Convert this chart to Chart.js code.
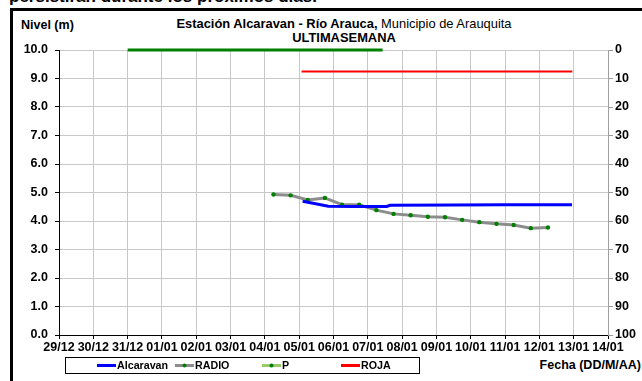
<!DOCTYPE html>
<html>
<head>
<meta charset="utf-8">
<script src="https://cdn.jsdelivr.net/npm/chart.js@4/dist/chart.umd.min.js"></script>
<style>
  html,body{margin:0;padding:0;background:#fff;}
  body{width:642px;height:381px;overflow:hidden;position:relative;font-family:'Liberation Sans',Arial,sans-serif;color:#000;}
  #topText{position:absolute;left:9px;top:-12px;font:bold 17px/17px 'Liberation Sans',Arial,sans-serif;white-space:nowrap;}
  #frame{position:absolute;left:10px;top:8px;width:720px;height:420px;border-left:3px solid #000;border-top:3px solid #000;background:transparent;}
  #nivel{position:absolute;left:21px;top:18px;font:bold 12.5px 'Liberation Sans',Arial,sans-serif;white-space:nowrap;}
  #title{position:absolute;left:0;width:688px;top:17px;text-align:center;font:12.9px 'Liberation Sans',Arial,sans-serif;line-height:14px;white-space:nowrap;}
  #fecha{position:absolute;right:1px;top:358px;font:bold 12.5px 'Liberation Sans',Arial,sans-serif;white-space:nowrap;}
  canvas{position:absolute;left:0;top:0;}
</style>
</head>
<body>
<div id="topText">persistiran durante los proximos dias.</div>
<div id="frame"></div>
<div id="nivel">Nivel (m)</div>
<div id="title"><b>Estación Alcaravan - Río Arauca,</b> Municipio de Arauquita<br><b>ULTIMASEMANA</b></div>
<div id="fecha">Fecha (DD/M/AA)</div>
<canvas id="c" width="642" height="381"></canvas>
<script>
// ---- data (x = days since 29/12) ----
const xLabels = ['29/12','30/12','31/12','01/01','02/01','03/01','04/01','05/01','06/01','07/01','08/01','09/01','10/01','11/01','12/01','13/01','14/01'];
const yLeftTicks = [0,1,2,3,4,5,6,7,8,9,10];
const yRightTicks = [0,10,20,30,40,50,60,70,80,90,100];

const alcaravanX = [7.1, 7.85, 8.6, 9.55, 9.65, 11.5, 13.0, 14.95];
const alcaravanY = [4.69, 4.52, 4.51, 4.51, 4.55, 4.56, 4.57, 4.57];

const radioX = [6.25, 6.75, 7.25, 7.75, 8.25, 8.75, 9.25, 9.75, 10.25, 10.75, 11.25, 11.75, 12.25, 12.75, 13.25, 13.75, 14.25];
const radioY = [4.93, 4.90, 4.74, 4.81, 4.57, 4.57, 4.38, 4.25, 4.20, 4.15, 4.13, 4.04, 3.96, 3.90, 3.86, 3.75, 3.77];

const pX = [2.0, 9.43];
const pY = [0, 0];

const rojaX = [7.07, 14.96];
const rojaY = [9.25, 9.25];

const FONT = "'Liberation Sans', Arial, sans-serif";
const pts = (xs, ys) => xs.map((x, i) => ({x: x, y: ys[i]}));

const legendItems = [
  {label:'Alcaravan', line:'#0000ff', marker:null, x:97},
  {label:'RADIO', line:'#8c8c8c', marker:'#008000', x:175},
  {label:'P', line:'#99cc66', marker:'#008000', x:262},
  {label:'ROJA', line:'#ff0000', marker:null, x:341}
];

const legendPlugin = {
  id:'boxLegend',
  afterDraw(chart){
    const c = chart.ctx;
    c.save();
    c.strokeStyle = '#000';
    c.lineWidth = 1;
    c.strokeRect(65.5, 357.5, 354, 16);
    const y = 365.5;
    c.font = 'bold 10.7px ' + FONT;
    c.textBaseline = 'middle';
    c.fillStyle = '#000';
    legendItems.forEach(it => {
      c.strokeStyle = it.line;
      c.lineWidth = 3;
      c.beginPath();
      c.moveTo(it.x, y);
      c.lineTo(it.x + 19, y);
      c.stroke();
      if (it.marker){
        c.fillStyle = it.marker;
        c.beginPath();
        c.arc(it.x + 9.5, y, 2, 0, Math.PI*2);
        c.fill();
      }
      c.fillStyle = '#000';
      c.fillText(it.label, it.x + 20, y + 0.5);
    });
    c.restore();
  }
};

const tickFont = {family: FONT, size: 12.5, weight: 'bold'};

new Chart(document.getElementById('c'), {
  type: 'line',
  data: {
    datasets: [
      {label:'Alcaravan', data: pts(alcaravanX, alcaravanY), borderColor:'#0000ff', borderWidth:3, pointRadius:0, yAxisID:'y', tension:0},
      {label:'RADIO', data: pts(radioX, radioY), borderColor:'#8c8c8c', borderWidth:3, pointRadius:2.2, pointBackgroundColor:'#008000', pointBorderWidth:0, yAxisID:'y', tension:0},
      {label:'P', data: pts(pX, pY), borderColor:'#008000', borderWidth:3, pointRadius:0, yAxisID:'y2', tension:0, clip:false},
      {label:'ROJA', data: pts(rojaX, rojaY), borderColor:'#ff0000', borderWidth:2, pointRadius:0, yAxisID:'y', tension:0}
    ]
  },
  options: {
    responsive: false,
    animation: false,
    events: [],
    layout: {padding: {top: 50, left: 0, right: 0, bottom: 0}},
    plugins: {legend: {display: false}, tooltip: {enabled: false}, title: {display: false}},
    scales: {
      x: {
        type: 'linear', min: 0, max: xLabels.length - 1,
        afterFit: s => { s.height = 46; },
        afterBuildTicks: s => { s.ticks = xLabels.map((_, i) => ({value: i})); },
        ticks: {autoSkip: false, maxRotation: 0, minRotation: 0, callback: v => xLabels[v], font: tickFont, color: '#000', padding: 1},
        grid: {color: '#c8c8c8', tickColor: '#000', tickLength: 4, lineWidth: 1},
        border: {color: '#000', width: 1}
      },
      y: {
        type: 'linear', position: 'left', min: 0, max: 10,
        afterFit: s => { s.width = 59; },
        afterBuildTicks: s => { s.ticks = yLeftTicks.map(v => ({value: v})); },
        ticks: {callback: v => Number(v).toFixed(1), font: tickFont, color: '#000', padding: 7},
        grid: {color: '#c8c8c8', tickColor: '#000', tickLength: 4, lineWidth: 1},
        border: {color: '#000', width: 1}
      },
      y2: {
        type: 'linear', position: 'right', reverse: true, min: 0, max: 100,
        afterFit: s => { s.width = 34; },
        afterBuildTicks: s => { s.ticks = yRightTicks.map(v => ({value: v})); },
        ticks: {callback: v => String(v), font: tickFont, color: '#000', padding: 2},
        grid: {drawOnChartArea: false, tickColor: '#999', tickLength: 5, lineWidth: 1},
        border: {color: '#a0a0a0', width: 1}
      }
    }
  },
  plugins: [legendPlugin]
});
</script>
</body>
</html>
